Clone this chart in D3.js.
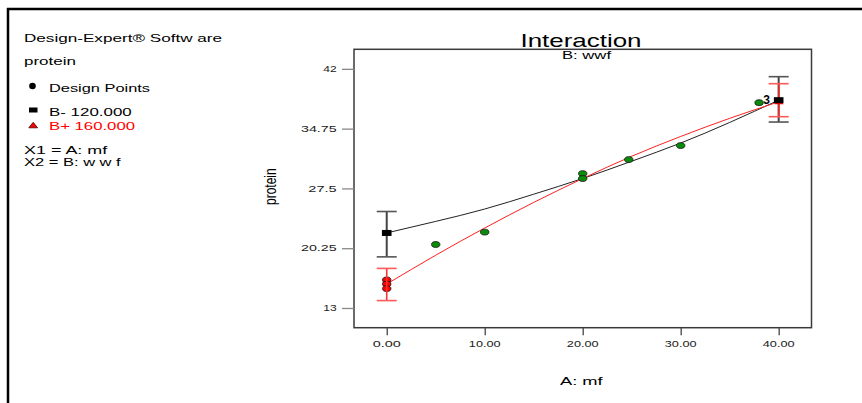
<!DOCTYPE html>
<html>
<head>
<meta charset="utf-8">
<script src="https://cdn.jsdelivr.net/npm/d3@7"></script>
<style>
html,body{margin:0;padding:0;background:#fff;}
svg{display:block;font-family:"Liberation Sans",Arial,sans-serif;}
</style>
</head>
<body>
<svg id="chart" width="862" height="403"></svg>
<script>
// ---- data ----
const xTicks = [0, 10, 20, 30, 40];
const xTickLabels = ["0.00", "10.00", "20.00", "30.00", "40.00"];
const yTicks = [13, 20.25, 27.5, 34.75, 42];
const yTickLabels = ["13", "20.25", "27.5", "34.75", "42"];
const curveX = [0, 5, 10, 15, 20, 25, 30, 35, 40];
const bMinusY = [22.1, 23.5, 25.0, 26.8, 28.7, 30.8, 33.0, 35.5, 38.2];
const bPlusY = [15.9, 19.4, 22.7, 25.8, 28.7, 31.4, 33.8, 36.0, 38.0];
const errX = [0, 40];
const bMinusMean = [22.1, 38.2];
const bMinusLow = [19.2, 35.55];
const bMinusHigh = [24.7, 41.05];
const bPlusMean = [15.9, 38.0];
const bPlusLow = [13.9, 36.2];
const bPlusHigh = [17.8, 40.2];
const designX = [0, 0, 0, 5, 10, 20, 20, 24.7, 30, 38];
const designY = [16.4, 15.9, 15.35, 20.7, 22.2, 29.3, 28.7, 31.0, 32.7, 37.9];
const designLevel = ["high", "high", "high", "mid", "mid", "mid", "mid", "mid", "mid", "mid"];
const repeatLabel = {x: 40, y: 38.2, text: "3"};
const legendLines = [
  {text: "Design-Expert® Softw are", color: "#000"},
  {text: "protein", color: "#000"},
  {text: "Design Points", color: "#000"},
  {text: "B- 120.000", color: "#000"},
  {text: "B+ 160.000", color: "#ff0000"},
  {text: "X1 = A: mf", color: "#000"},
  {text: "X2 = B: w w f", color: "#000"}
];

// ---- layout ----
const svg = d3.select("#chart");
const plot = {left: 354, right: 811.5, top: 49.3, bottom: 327.7};
const x = d3.scaleLinear().domain([-3.34, 43.35]).range([plot.left, plot.right]);
const y = d3.scaleLinear().domain([10.61, 44.37]).range([plot.bottom, plot.top]);

function txt(g, s, px, py, opts) {
  const t = g.append("text")
    .attr("x", px).attr("y", py)
    .attr("font-size", opts.fs)
    .attr("fill", opts.color || "#000")
    .attr("text-anchor", opts.anchor || "start")
    .text(s);
  if (opts.w) t.attr("textLength", opts.w).attr("lengthAdjust", "spacingAndGlyphs");
  if (opts.weight) t.attr("font-weight", opts.weight);
  return t;
}

// outer frame
svg.append("line").attr("x1", 7).attr("x2", 862).attr("y1", 9).attr("y2", 9)
  .attr("stroke", "#000").attr("stroke-width", 2.5);
svg.append("line").attr("x1", 8).attr("x2", 8).attr("y1", 8).attr("y2", 403)
  .attr("stroke", "#000").attr("stroke-width", 2.5);

// legend
const leg = svg.append("g");
const legPos = [
  {x: 24, y: 41.5, w: 198}, {x: 24, y: 64.5, w: 52}, {x: 49, y: 91.5, w: 101},
  {x: 49, y: 116, w: 82.7}, {x: 49, y: 129.5, w: 86}, {x: 24, y: 153.5, w: 83.3},
  {x: 24, y: 166, w: 96.7}
];
legendLines.forEach((d, i) => txt(leg, d.text, legPos[i].x, legPos[i].y, {fs: 11.8, w: legPos[i].w, color: d.color}));
leg.append("circle").attr("cx", 32.5).attr("cy", 86).attr("r", 3.3).attr("fill", "#000");
leg.append("rect").attr("x", 29).attr("y", 107.5).attr("width", 8.5).attr("height", 5).attr("fill", "#000");
leg.append("path").attr("d", "M33.2,122.3 L37.6,127.8 L28.8,127.8 Z")
  .attr("fill", "#ff0000").attr("stroke", "#400").attr("stroke-width", 0.8);

// title
txt(svg, "Interaction", 581, 46.7, {fs: 18.5, w: 121, anchor: "middle"});
txt(svg, "B: wwf", 586.5, 59.3, {fs: 10.5, w: 49, anchor: "middle"});

// plot border
svg.append("rect").attr("x", plot.left).attr("y", plot.top)
  .attr("width", plot.right - plot.left).attr("height", plot.bottom - plot.top)
  .attr("fill", "none").attr("stroke", "#3a3a3a").attr("stroke-width", 1.5);

// y axis
const yAxis = d3.axisLeft(y).tickValues(yTicks).tickSize(12).tickFormat("");
const yg = svg.append("g").attr("transform", `translate(${plot.left},0)`).call(yAxis);
yg.select(".domain").remove();
yg.selectAll(".tick line").attr("stroke", "#888").attr("stroke-width", 1.3);
const yW = [13.4, 35.7, 28.4, 35.7, 13.4];
yTicks.forEach((v, i) => txt(svg, yTickLabels[i], 336.7, y(v) + 3.2, {fs: 9, w: yW[i], anchor: "end", color: "#222"}));

// x axis
const xAxis = d3.axisBottom(x).tickValues(xTicks).tickSize(7.5).tickFormat("");
const xg = svg.append("g").attr("transform", `translate(0,${plot.bottom})`).call(xAxis);
xg.select(".domain").remove();
xg.selectAll(".tick line").attr("stroke", "#444").attr("stroke-width", 1.3);
const xW = [28, 31.7, 31.7, 31.7, 31.7];
xTicks.forEach((v, i) => txt(svg, xTickLabels[i], x(v), 346.5, {fs: 8.3, w: xW[i], anchor: "middle", color: "#222"}));

// axis titles
txt(svg, "A: mf", 581.3, 385, {fs: 10.7, w: 42.7, anchor: "middle"});
svg.append("text")
  .attr("transform", "translate(275.8,186.7) scale(1.4,1) rotate(-90)")
  .attr("font-size", 12).attr("text-anchor", "middle")
  .attr("textLength", 36.7).attr("lengthAdjust", "spacingAndGlyphs")
  .text("protein");

// curves
const line = d3.line().x((d, i) => x(curveX[i])).y(d => y(d)).curve(d3.curveNatural);
svg.append("path").attr("d", line(bMinusY)).attr("fill", "none").attr("stroke", "#222").attr("stroke-width", 1);
svg.append("path").attr("d", line(bPlusY)).attr("fill", "none").attr("stroke", "#ff2020").attr("stroke-width", 1);

// design points
svg.selectAll(".dp").data(designX).enter().append("ellipse")
  .attr("cx", (d) => x(d)).attr("cy", (d, i) => y(designY[i]))
  .attr("rx", 4.2).attr("ry", 2.9)
  .attr("fill", (d, i) => designLevel[i] === "high" ? "#ff0000" : "#0a8c0a")
  .attr("stroke", "#111").attr("stroke-width", 0.8);

// error bars
function errBar(i, low, high, color, capColor, width) {
  const cx = x(errX[i]);
  svg.append("line").attr("x1", cx).attr("x2", cx).attr("y1", y(high[i])).attr("y2", y(low[i]))
    .attr("stroke", color).attr("stroke-width", width);
  [high[i], low[i]].forEach(v => {
    svg.append("line").attr("x1", cx - 10).attr("x2", cx + 10).attr("y1", y(v)).attr("y2", y(v))
      .attr("stroke", capColor).attr("stroke-width", 1.6);
  });
}
errBar(0, bMinusLow, bMinusHigh, "#444", "#555", 2);
errBar(0, bPlusLow, bPlusHigh, "#ff3030", "#ff5a5a", 1.6);
errBar(1, bMinusLow, bMinusHigh, "#444", "#555", 2);
errBar(1, bPlusLow, bPlusHigh, "#ff2020", "#ff5a5a", 1.6);

// mean markers
svg.append("path").attr("d", `M${x(40) + 0.5},${y(bPlusMean[1]) - 4.5} l4.5,7 l-9,0 Z`).attr("fill", "#ff0000");
errX.forEach((v, i) => {
  svg.append("rect").attr("x", x(v) - 4.8).attr("y", y(bMinusMean[i]) - 3)
    .attr("width", 9.6).attr("height", 6).attr("fill", "#000");
});

// repeat count label
txt(svg, repeatLabel.text, x(repeatLabel.x) - 12, y(repeatLabel.y) + 3.5, {fs: 12, anchor: "middle", weight: "bold"});
</script>
</body>
</html>
